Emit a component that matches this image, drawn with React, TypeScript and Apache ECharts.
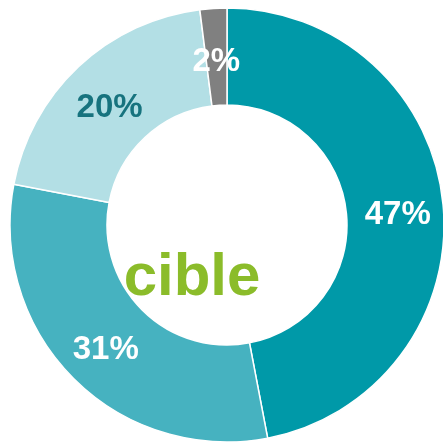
import React, { useEffect, useRef } from "react";
import * as echarts from "echarts";

const categories = ["A", "B", "C", "D"];
const values = [47, 31, 20, 2];
const sliceColors = ["#0099A8", "#46B2C0", "#B3DFE5", "#808080"];
const labelColors = ["#FFFFFF", "#FFFFFF", "#17737E", "#FFFFFF"];
const labelShiftY = [4, 1, 6, 6];
const centerText = "cible";

export default function App() {
  const ref = useRef<HTMLDivElement>(null);
  useEffect(() => {
    if (!ref.current) return;
    const chart = echarts.init(ref.current, undefined, { renderer: "svg" });
    chart.setOption({
      animation: false,
      series: [
        {
          type: "pie",
          radius: [120, 217],
          center: [227, 225],
          startAngle: 90,
          clockwise: true,
          avoidLabelOverlap: false,
          itemStyle: { borderColor: "#FFFFFF", borderWidth: 1.5 },
          label: {
            show: true,
            position: "inside",
            formatter: "{c}%",
            fontFamily: "Liberation Sans, Arial, sans-serif",
            fontWeight: "bold",
            fontSize: 33,
          },
          labelLine: { show: false },
          emphasis: { disabled: true },
          data: categories.map((c, i) => ({
            name: c,
            value: values[i],
            itemStyle: { color: sliceColors[i] },
            label: { color: labelColors[i], offset: [0, labelShiftY[i]] },
          })),
        },
      ],
      graphic: [
        {
          type: "text",
          x: 192,
          y: 274,
          style: {
            text: centerText,
            fill: "#8BBC2A",
            font: "bold 60px 'Liberation Sans', Arial, sans-serif",
            align: "center",
            verticalAlign: "middle",
          },
        },
      ],
    });
    return () => chart.dispose();
  }, []);
  return (
    <div
      ref={ref}
      style={{ position: "fixed", left: 0, top: 0, width: 443, height: 444 }}
    />
  );
}
